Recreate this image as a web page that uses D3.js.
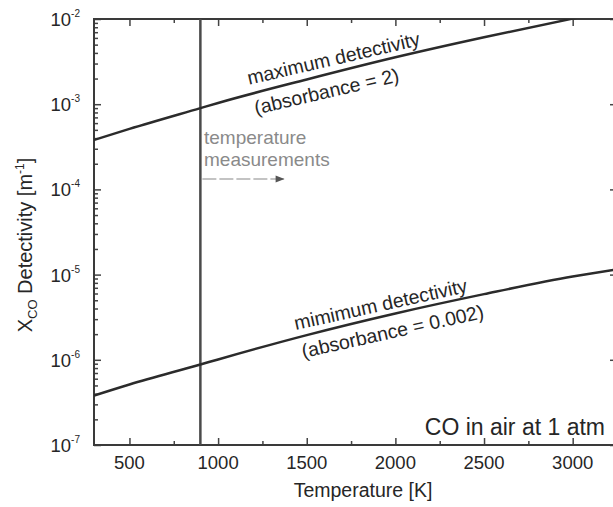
<!DOCTYPE html>
<html>
<head>
<meta charset="utf-8">
<script src="https://cdn.jsdelivr.net/npm/d3@7"></script>
<style>
body { margin: 0; background: #fff; }
text { font-family: "Liberation Sans", Arial, sans-serif; fill: #262626; }
</style>
</head>
<body>
<svg id="chart" width="613" height="507"></svg>
<script>
// values
var temps  = [300, 500, 900, 1000, 1500, 2000, 2500, 3000, 3250];
var maxDet = [3.80e-4, 5.13e-4, 9.0e-4, 1.035e-3, 1.95e-3, 3.55e-3, 6.1e-3, 1.01e-2, 1.29e-2];
var minDet = [3.80e-7, 5.13e-7, 8.8e-7, 1.01e-6, 1.95e-6, 3.5e-6, 5.9e-6, 9.5e-6, 1.15e-5];
var xTicks = [500, 1000, 1500, 2000, 2500, 3000];
var xMinor = [750, 1250, 1750, 2250, 2750, 3250];
var yExps  = [-2, -3, -4, -5, -6, -7];
var measureT = 900;

var svg = d3.select('#chart');
// (don't use "top" - it clashes with window.top)
var pL = 94, pR = 617, pT = 19, pB = 445;

var x = d3.scaleLinear().domain([300, 3250]).range([pL, pR]);
var y = d3.scaleLog().domain([1e-7, 1e-2]).range([pB, pT]);

var decades = yExps.map(e => Math.pow(10, e));
var yMinor = [];
for (var e = -7; e < -2; e++) {
  for (var k = 2; k < 10; k++) yMinor.push(k * Math.pow(10, e));
}

svg.append('clipPath').attr('id', 'plot')
  .append('rect').attr('x', pL).attr('y', pT)
  .attr('width', pR - pL).attr('height', pB - pT);

function tickAxis(axis, tx, ty) {
  var g = svg.append('g').attr('transform', `translate(${tx},${ty})`).call(axis);
  g.select('.domain').remove();
  g.selectAll('line').attr('stroke', '#444').attr('stroke-width', 1.5);
  return g;
}

// inward ticks on all four sides
tickAxis(d3.axisBottom(x).tickValues(xTicks).tickSize(-7).tickFormat(''), 0, pB);
tickAxis(d3.axisBottom(x).tickValues(xMinor).tickSize(-4).tickFormat(''), 0, pB);
tickAxis(d3.axisTop(x).tickValues(xTicks).tickSize(-7).tickFormat(''), 0, pT);
tickAxis(d3.axisTop(x).tickValues(xMinor).tickSize(-4).tickFormat(''), 0, pT);
tickAxis(d3.axisLeft(y).tickValues(decades).tickSize(-7).tickFormat(''), pL, 0);
tickAxis(d3.axisLeft(y).tickValues(yMinor).tickSize(-4).tickFormat(''), pL, 0);
tickAxis(d3.axisRight(y).tickValues(decades).tickSize(-7).tickFormat(''), pR, 0);
tickAxis(d3.axisRight(y).tickValues(yMinor).tickSize(-4).tickFormat(''), pR, 0);

// frame
svg.append('rect')
  .attr('x', pL).attr('y', pT)
  .attr('width', pR - pL).attr('height', pB - pT)
  .attr('fill', 'none').attr('stroke', '#3a3a3a').attr('stroke-width', 2);

// tick labels
svg.selectAll('.xlab').data(xTicks).enter().append('text')
  .attr('class', 'xlab')
  .attr('x', d => x(d)).attr('y', pB + 24)
  .attr('text-anchor', 'middle')
  .style('font-size', '18.5px')
  .text(d => d);

var ylab = svg.selectAll('.ylab').data(yExps).enter().append('text')
  .attr('class', 'ylab')
  .attr('x', pL - 14).attr('y', d => y(Math.pow(10, d)) + 7)
  .attr('text-anchor', 'end')
  .style('font-size', '18.5px');
ylab.append('tspan').text('10');
ylab.append('tspan').attr('dy', -9).style('font-size', '10px').text(d => d);

// measurement temperature line
svg.append('line')
  .attr('x1', x(measureT)).attr('x2', x(measureT))
  .attr('y1', pT).attr('y2', pB)
  .attr('stroke', '#4a4a4a').attr('stroke-width', 2.5);

// detectivity curves
var line = d3.line()
  .x(d => x(d[0])).y(d => y(d[1]))
  .curve(d3.curveMonotoneX);

[maxDet, minDet].forEach(function(series) {
  svg.append('path')
    .datum(temps.map((t, i) => [t, series[i]]))
    .attr('d', line)
    .attr('clip-path', 'url(#plot)')
    .attr('fill', 'none')
    .attr('stroke', '#2b2b2b')
    .attr('stroke-width', 2.5);
});

// curve labels
function slanted(txt, cx, cy, ang) {
  svg.append('text')
    .attr('transform', `translate(${cx},${cy}) rotate(${ang})`)
    .attr('text-anchor', 'middle')
    .style('font-size', '19.5px')
    .text(txt);
}
slanted('maximum detectivity', 335, 65, -13);
slanted('(absorbance = 2)', 328, 98, -13);
slanted('mimimum detectivity', 382, 311, -12.5);
slanted('(absorbance = 0.002)', 394, 338, -12.5);

// temperature measurements note
svg.append('text').attr('x', 204).attr('y', 144)
  .style('font-size', '19px').style('fill', '#8a8a8a').text('temperature');
svg.append('text').attr('x', 204).attr('y', 166)
  .style('font-size', '19px').style('fill', '#8a8a8a').text('measurements');

svg.append('defs').append('marker')
  .attr('id', 'head').attr('viewBox', '0 0 10 10')
  .attr('refX', 9).attr('refY', 5)
  .attr('markerWidth', 8).attr('markerHeight', 6)
  .attr('orient', 'auto')
  .append('path').attr('d', 'M0,1L10,5L0,9Z').attr('fill', '#555');

svg.append('line')
  .attr('x1', x(measureT) + 2).attr('x2', x(1370))
  .attr('y1', 179).attr('y2', 179)
  .attr('stroke', '#b0b0b0').attr('stroke-width', 1.5)
  .attr('stroke-dasharray', '14,3')
  .attr('marker-end', 'url(#head)');

svg.append('text')
  .attr('x', 605).attr('y', 435)
  .attr('text-anchor', 'end')
  .style('font-size', '23px')
  .text('CO in air at 1 atm');

// axis titles
svg.append('text')
  .attr('x', 363).attr('y', 497)
  .attr('text-anchor', 'middle')
  .style('font-size', '19.5px')
  .text('Temperature [K]');

var yt = svg.append('text')
  .attr('transform', 'translate(32,245) rotate(-90)')
  .attr('text-anchor', 'middle')
  .style('font-size', '20px');
yt.append('tspan').text('X');
yt.append('tspan').attr('dy', 5).style('font-size', '13px').text('CO');
yt.append('tspan').attr('dy', -5).text(' Detectivity [m');
yt.append('tspan').attr('dy', -8).style('font-size', '12px').text('-1');
yt.append('tspan').attr('dy', 8).text(']');
</script>
</body>
</html>
